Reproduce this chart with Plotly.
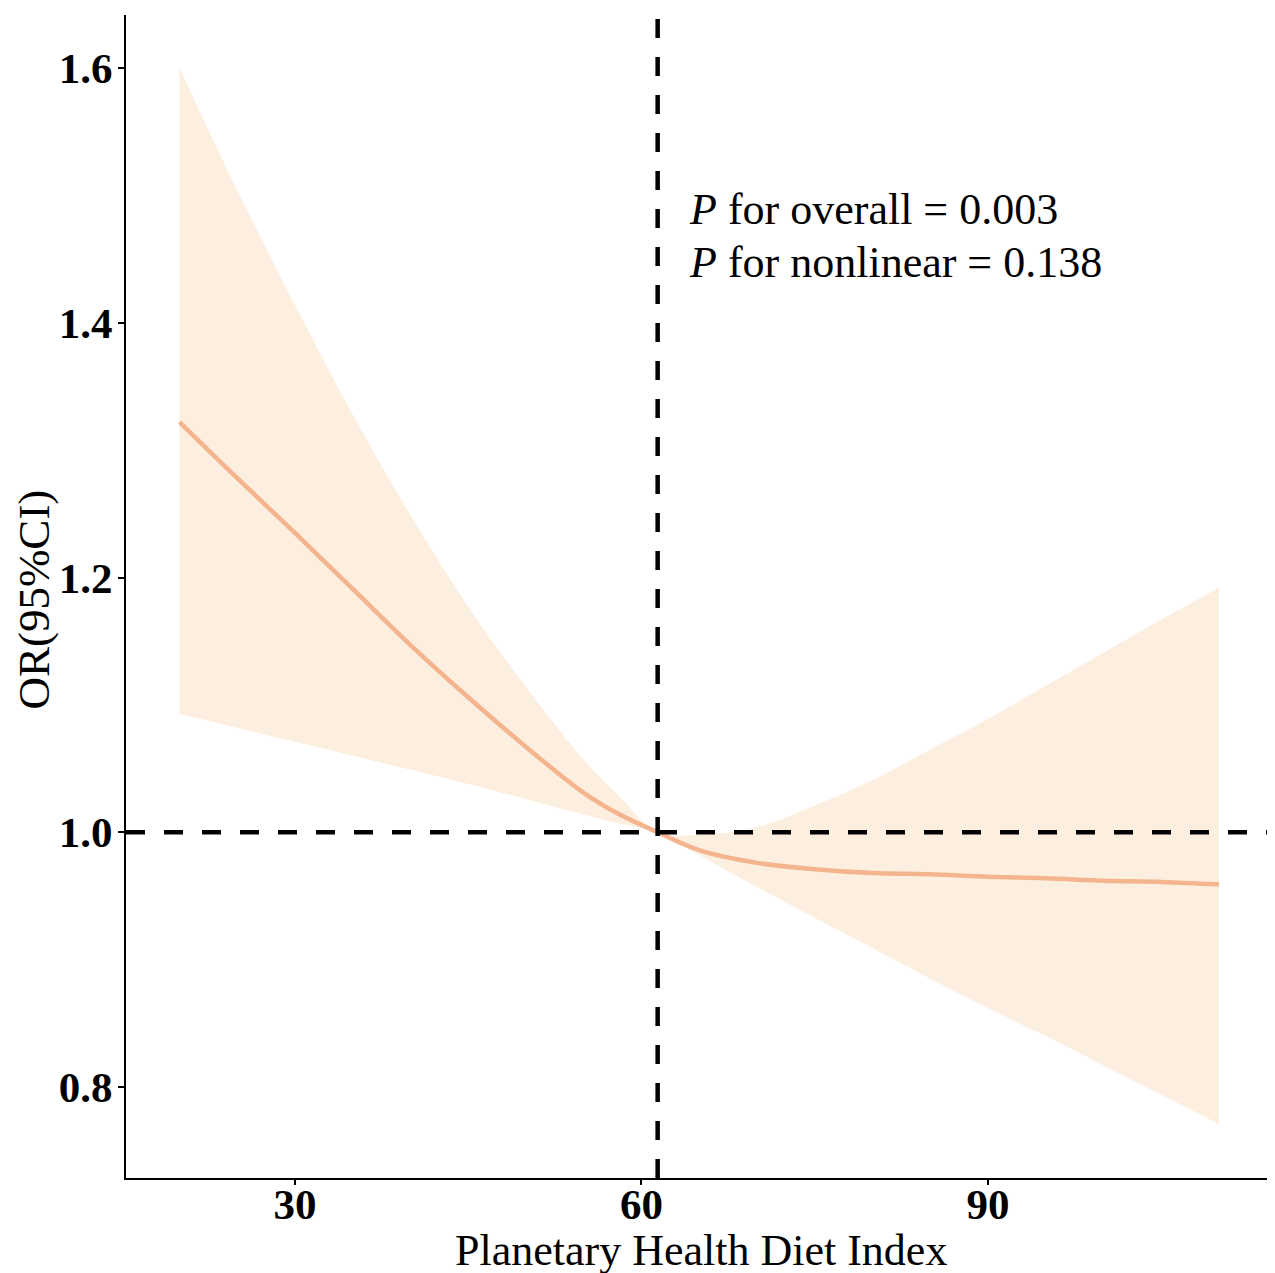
import plotly.graph_objects as go

# ---- data ----
phdi = [20, 25, 30, 35, 40, 45, 50, 55, 58, 61.4, 65, 70, 75, 80, 85, 90, 95, 100, 105, 110]
or_est = [1.322, 1.278, 1.235, 1.191, 1.147, 1.106, 1.067, 1.031, 1.0145, 1.000,
          0.986, 0.976, 0.971, 0.968, 0.967, 0.965, 0.964, 0.962, 0.961, 0.959]
or_upper = [1.600, 1.504, 1.414, 1.328, 1.249, 1.177, 1.114, 1.057, 1.029, 1.000,
            0.998, 1.004, 1.021, 1.041, 1.065, 1.089, 1.115, 1.141, 1.167, 1.192]
or_lower = [1.093, 1.082, 1.071, 1.060, 1.049, 1.038, 1.026, 1.014, 1.007, 1.000,
            0.982, 0.957, 0.933, 0.909, 0.885, 0.862, 0.840, 0.817, 0.794, 0.771]
ref_x = 61.4
ref_or = 1.0
x_ticks = [30, 60, 90]
y_ticks = [0.8, 1.0, 1.2, 1.4, 1.6]
y_ticktext = ["0.8", "1.0", "1.2", "1.4", "1.6"]
p_texts = ["<i>P</i> for overall = 0.003", "<i>P</i> for nonlinear = 0.138"]

FONT = "Liberation Serif"
FILL = "#FDEFE0"
LINE = "#F4B48E"

fig = go.Figure()
fig.add_trace(go.Scatter(x=phdi, y=or_lower, mode="lines",
                         line=dict(width=0, shape="spline", color=FILL),
                         showlegend=False, hoverinfo="skip"))
fig.add_trace(go.Scatter(x=phdi, y=or_upper, mode="lines", fill="tonexty",
                         fillcolor=FILL,
                         line=dict(width=0, shape="spline", color=FILL),
                         showlegend=False, hoverinfo="skip"))
fig.add_trace(go.Scatter(x=phdi, y=or_est, mode="lines",
                         line=dict(width=4.5, shape="spline", color=LINE),
                         showlegend=False))

dash = "19px,19px"
fig.add_shape(type="line", xref="paper", yref="y", x0=0, x1=1, y0=ref_or, y1=ref_or,
              line=dict(color="black", width=4.5, dash=dash))
fig.add_shape(type="line", xref="x", yref="paper", x0=ref_x, x1=ref_x, y0=0, y1=1,
              line=dict(color="black", width=4.5, dash=dash))

fig.add_annotation(x=63.9, y=1.489, xref="x", yref="y", text=p_texts[0],
                   showarrow=False, xanchor="left", yanchor="middle",
                   font=dict(family=FONT, size=44, color="black"))
fig.add_annotation(x=63.9, y=1.447, xref="x", yref="y", text=p_texts[1],
                   showarrow=False, xanchor="left", yanchor="middle",
                   font=dict(family=FONT, size=44, color="black"))

fig.add_annotation(x=0.5, y=-0.0621, xref="paper", yref="paper",
                   text="Planetary Health Diet Index", showarrow=False,
                   xanchor="center", yanchor="middle",
                   font=dict(family=FONT, size=44, color="black"))
fig.add_annotation(x=-0.0804, y=0.497, xref="paper", yref="paper",
                   text="OR(95%CI)", showarrow=False, textangle=-90,
                   xanchor="center", yanchor="middle",
                   font=dict(family=FONT, size=45, color="black"))

fig.update_xaxes(range=[15.37, 114.85], tickvals=x_ticks, ticks="outside", ticklen=5,
                 tickwidth=2, tickcolor="black", showline=True, linecolor="black",
                 linewidth=2, showgrid=False, zeroline=False,
                 tickfont=dict(family=FONT, size=43, color="black", weight="bold"))
fig.update_yaxes(range=[0.7286, 1.6416], tickvals=y_ticks, ticktext=y_ticktext,
                 ticks="outside", ticklen=6, tickwidth=2, tickcolor="black",
                 showline=True, linecolor="black", linewidth=2, showgrid=False,
                 zeroline=False,
                 tickfont=dict(family=FONT, size=43, color="black", weight="bold"))
try:
    fig.update_xaxes(ticklabelstandoff=-18)
    fig.update_yaxes(ticklabelstandoff=-3)
except Exception:
    pass

# the page body has an 8px margin, so shift the figure margins accordingly
fig.update_layout(width=1275, height=1273, margin=dict(l=118, r=8, t=7, b=103),
                  plot_bgcolor="white", paper_bgcolor="white", showlegend=False)

fig.write_html("out.html")
